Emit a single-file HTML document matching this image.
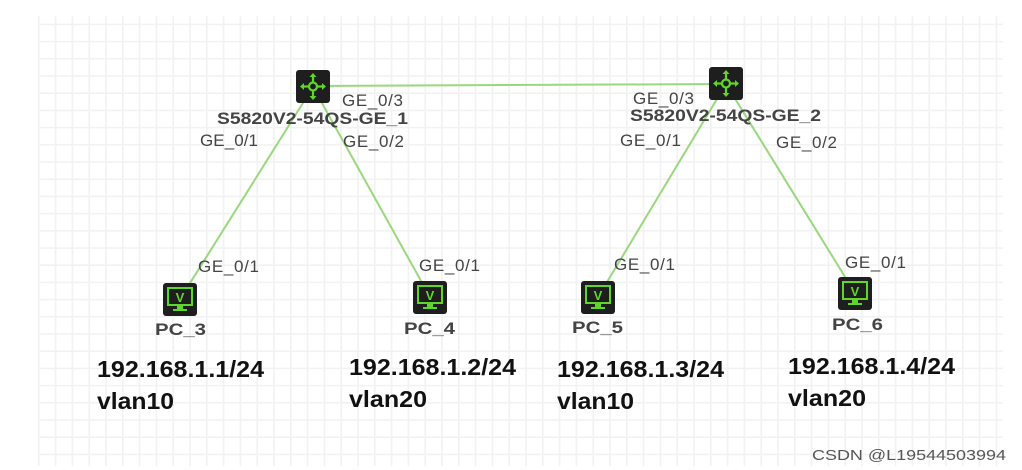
<!DOCTYPE html>
<html><head><meta charset="utf-8"><style>
html,body{margin:0;padding:0;background:#fff;}
body{width:1022px;height:470px;overflow:hidden;position:relative;font-family:"Liberation Sans",sans-serif;}
</style></head><body>
<svg width="1022" height="470" xmlns="http://www.w3.org/2000/svg" style="position:absolute;left:0;top:0">
<defs>
<pattern id="g" x="38" y="8" width="16.8" height="17.2" patternUnits="userSpaceOnUse">
<path d="M0.8 0V17.2M0 16.4H16.8" stroke="#f2f2f2" stroke-width="1.6" fill="none"/>
</pattern>
<g id="sw">
<rect x="0" y="0" width="34" height="33" rx="3" fill="#1e1e1e"/>
<g stroke="#5fd62a" stroke-width="2.2" fill="none"><circle cx="17" cy="16.5" r="4"/><path d="M17 5V12.5M17 20.5V28M6 16.5H13M21 16.5H28"/></g>
<g fill="#5fd62a"><path d="M17 3l-3.5 4h7z M17 30l-3.5-4h7z M4 16.5l4-3.5v7z M30 16.5l-4-3.5v7z"/></g>
</g>
<g id="pc">
<rect x="0" y="0" width="34" height="33" rx="3" fill="#1e1e1e"/>
<rect x="5" y="5" width="24" height="17" fill="none" stroke="#5fd62a" stroke-width="2"/>
<text x="17" y="19" font-family="Liberation Sans" font-weight="bold" font-size="13" fill="#5fd62a" text-anchor="middle">V</text>
<path d="M14 23h6v3h4v2H10v-2h4z" fill="#5fd62a"/>
</g>
</defs>
<rect x="38" y="16" width="965" height="450" fill="url(#g)"/>
<g stroke="#9ad77e" stroke-width="2">
<line x1="313" y1="86" x2="726" y2="84"/>
<line x1="313" y1="87" x2="180" y2="299"/>
<line x1="313" y1="87" x2="430" y2="297"/>
<line x1="726" y1="84" x2="598" y2="297"/>
<line x1="726" y1="84" x2="855" y2="293"/>
</g>
<use href="#sw" x="296" y="70"/>
<use href="#sw" x="709" y="67"/>
<use href="#pc" x="163" y="283"/>
<use href="#pc" x="413" y="281"/>
<use href="#pc" x="581" y="281"/>
<use href="#pc" x="838" y="277"/>
<g font-size="17" fill="#444" lengthAdjust="spacingAndGlyphs">
<text x="342" y="106" textLength="61">GE_0/3</text>
<text x="200" y="146" textLength="58">GE_0/1</text>
<text x="343" y="147" textLength="61">GE_0/2</text>
<text x="633" y="104" textLength="61">GE_0/3</text>
<text x="620" y="146" textLength="61">GE_0/1</text>
<text x="776" y="148" textLength="61">GE_0/2</text>
<text x="198" y="272" textLength="61">GE_0/1</text>
<text x="419" y="271" textLength="61">GE_0/1</text>
<text x="614" y="270" textLength="61">GE_0/1</text>
<text x="845" y="268" textLength="61">GE_0/1</text>
</g>
<g font-size="17" font-weight="bold" fill="#444">
<text x="217" y="124" textLength="191" lengthAdjust="spacingAndGlyphs">S5820V2-54QS-GE_1</text>
<text x="630" y="121" textLength="191" lengthAdjust="spacingAndGlyphs">S5820V2-54QS-GE_2</text>
<text x="155" y="335" textLength="51" lengthAdjust="spacingAndGlyphs">PC_3</text>
<text x="404" y="334" textLength="51" lengthAdjust="spacingAndGlyphs">PC_4</text>
<text x="572" y="333" textLength="51" lengthAdjust="spacingAndGlyphs">PC_5</text>
<text x="832" y="330" textLength="51" lengthAdjust="spacingAndGlyphs">PC_6</text>
</g>
<g font-size="23" font-weight="bold" fill="#111">
<text x="97" y="377" textLength="167" lengthAdjust="spacingAndGlyphs">192.168.1.1/24</text><text x="97" y="409" textLength="77" lengthAdjust="spacingAndGlyphs">vlan10</text>
<text x="349" y="375" textLength="167" lengthAdjust="spacingAndGlyphs">192.168.1.2/24</text><text x="349" y="407" textLength="78" lengthAdjust="spacingAndGlyphs">vlan20</text>
<text x="557" y="377" textLength="167" lengthAdjust="spacingAndGlyphs">192.168.1.3/24</text><text x="557" y="409" textLength="77" lengthAdjust="spacingAndGlyphs">vlan10</text>
<text x="788" y="374" textLength="167" lengthAdjust="spacingAndGlyphs">192.168.1.4/24</text><text x="788" y="406" textLength="78" lengthAdjust="spacingAndGlyphs">vlan20</text>
</g>
<text x="1006" y="460" font-size="15" fill="#555" text-anchor="end" textLength="194" lengthAdjust="spacingAndGlyphs">CSDN @L19544503994</text>
</svg>
</body></html>
